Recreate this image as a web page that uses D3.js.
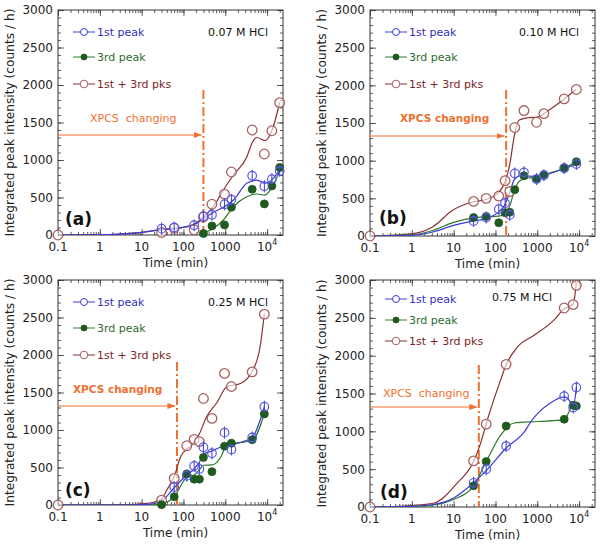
<!DOCTYPE html>
<html><head><meta charset="utf-8">
<script src="https://cdn.jsdelivr.net/npm/d3@7"></script>
<style>body{margin:0;background:#fff} svg{display:block} text{font-family:"DejaVu Sans",sans-serif}</style>
</head><body><svg id="c" width="600" height="547"></svg>
<script>
// ---------- tick labels ----------
const xTicks = [0.1, 1, 10, 100, 1000, 10000];
const xTickLabels = ["0.1", "1", "10", "100", "1000", "10^4"];
const yTicks = [0, 500, 1000, 1500, 2000, 2500, 3000];
const legendLabels = ["1st peak", "3rd peak", "1st + 3rd pks"];

// ---------- panel (a) 0.07 M HCl ----------
const t1A = [30, 60, 180, 300, 480, 960, 1400, 4400, 8600, 13000, 20000];
const p1A = [85, 100, 130, 250, 270, 410, 470, 790, 650, 745, 855];
const t3A = [300, 480, 960, 1400, 4400, 8600, 13000, 20000];
const p3A = [20, 120, 135, 370, 610, 415, 655, 900];
const tsA = [0.1, 30, 60, 180, 300, 480, 960, 1400, 4400, 8600, 13000, 20000];
const psA = [0, 35, 90, 70, 240, 410, 545, 840, 1400, 1080, 1390, 1765];
const fit1A = [[0.1,0],[1,3],[3,12],[10,35],[30,75],[100,105],[200,150],[300,220],[480,290],[1100,400],[1570,467],[3270,690],[5670,733],[8900,690],[12900,735],[20000,865]];
const fit3A = [[300,20],[520,89],[900,200],[1570,378],[3270,511],[5670,547],[8900,533],[14000,667],[20000,850]];
const fitSA = [[0.1,0],[1,3],[3,12],[10,35],[30,70],[100,100],[200,160],[300,240],[520,378],[900,600],[1570,800],[3270,1040],[4400,1230],[5670,1300],[8900,1260],[12900,1385],[20000,1770]];

// ---------- panel (b) 0.10 M HCl ----------
const t1B = [30, 60, 120, 170, 220, 290, 480, 960, 1440, 4400, 8600];
const p1B = [200, 245, 355, 435, 280, 830, 845, 755, 805, 900, 955];
const t3B = [30, 60, 120, 170, 220, 290, 480, 960, 1440, 4400, 8600];
const p3B = [245, 260, 175, 310, 315, 615, 800, 760, 815, 905, 985];
const tsB = [0.1, 30, 60, 120, 170, 220, 290, 480, 960, 1440, 4400, 8600];
const psB = [0, 460, 500, 530, 735, 590, 1440, 1665, 1510, 1625, 1820, 1945];
const fit1B = [[0.1,0],[1,10],[3,50],[10,140],[30,200],[60,230],[120,320],[170,420],[220,580],[290,760],[400,800],[1000,790],[1400,805],[4400,895],[8600,955]];
const fit3B = [[0.1,0],[1,15],[3,70],[10,180],[30,240],[60,255],[120,265],[170,290],[220,400],[290,620],[400,740],[600,770],[1000,780],[1400,810],[4400,900],[8600,985]];
const fitSB = [[0.1,0],[1,30],[3.2,124],[9.6,345],[30,455],[60,485],[110,560],[170,720],[220,950],[280,1320],[370,1540],[600,1570],[1000,1580],[2000,1680],[4400,1820],[8600,1945]];

// ---------- panel (c) 0.25 M HCl ----------
const t1C = [60, 120, 180, 240, 300, 480, 960, 1400, 4400, 8600];
const p1C = [240, 390, 520, 480, 770, 690, 965, 740, 900, 1310];
const t3C = [30, 60, 120, 180, 240, 300, 480, 960, 1400, 4400, 8600];
const p3C = [5, 110, 415, 345, 345, 635, 445, 785, 825, 870, 1215];
const tsC = [0.1, 30, 60, 120, 180, 240, 300, 480, 960, 1400, 4400, 8600];
const psC = [0, 65, 355, 790, 875, 845, 1420, 1155, 1755, 1580, 1775, 2545];
const fit1C = [[0.1,0],[5,0],[10,5],[20,20],[30,50],[60,230],[120,400],[180,480],[240,570],[300,680],[480,720],[960,790],[1400,800],[2500,840],[4400,900],[8600,1310]];
const fit3C = [[0.1,0],[10,0],[20,5],[30,15],[60,110],[120,370],[180,400],[240,470],[300,530],[480,535],[800,650],[1000,770],[1400,810],[4400,860],[8600,1220]];
const fitSC = [[0.1,0],[1,0],[5,5],[10,15],[20,40],[30,80],[40,200],[60,380],[85,640],[170,820],[240,950],[360,1180],[620,1360],[1100,1580],[2300,1620],[4400,1780],[6800,2110],[8600,2550]];

// ---------- panel (d) 0.75 M HCl ----------
const t1D = [30, 60, 180, 4400, 7200, 8600];
const p1D = [320, 500, 805, 1465, 1315, 1580];
const t3D = [30, 60, 180, 4400, 7200, 8600];
const p3D = [280, 600, 1070, 1160, 1345, 1335];
const tsD = [0.1, 30, 60, 180, 4400, 7200, 8600];
const psD = [0, 610, 1095, 1885, 2630, 2675, 2930];
const fit1D = [[0.1,0],[1,10],[3,30],[10,120],[30,320],[60,480],[180,780],[500,1000],[700,1125],[1000,1230],[2000,1370],[4400,1455],[6000,1400],[7200,1320],[8600,1580]];
const fit3D = [[0.1,0],[1,8],[3,25],[10,100],[30,280],[60,600],[133,950],[280,1110],[1000,1130],[4400,1155],[7200,1340],[8600,1340]];
const fitSD = [[0.1,0],[1,20],[3.3,50],[12,313],[30,600],[44,840],[60,1100],[133,1680],[180,1880],[336,2116],[840,2270],[2500,2470],[4400,2620],[7200,2680],[8600,2960]];

const hclLabels = ["0.07 M HCl", "0.10 M HCl", "0.25 M HCl", "0.75 M HCl"];
const panelLabels = ["(a)", "(b)", "(c)", "(d)"];
const xpcsTimes = [300, 180, 70, 40];
const xpcsText = ["XPCS  changing", "XPCS changing", "XPCS changing", "XPCS  changing"];

// ---------- styling / layout ----------
const C1 = "#3b3bd6", C3 = "#2f7a2f", C3f = "#1f5a1f", CS = "#8a3030", CSm = "#a86060", OR = "#f07030";
const layout = [
  {L:58, R:283, T:10, B:235, leg:[22,47,74], hcl:[268,26], lab:[65,225], xp:[90,122,135], bold:false, xpTop:90},
  {L:370, R:595, T:10, B:236, leg:[22,47,74], hcl:[579,26], lab:[379,224], xp:[400,122,136], bold:true, xpTop:90},
  {L:58, R:283, T:280, B:505, leg:[22,48,75], hcl:[268,296], lab:[65,496], xp:[73,393,406], bold:true, xpTop:362},
  {L:370, R:595, T:280, B:507, leg:[19,40,61], hcl:[552,291], lab:[380,498], xp:[383,397,407], bold:false, xpTop:365}
];
const data = [
  {t1:t1A,p1:p1A,t3:t3A,p3:p3A,ts:tsA,ps:psA,f1:fit1A,f3:fit3A,fs:fitSA},
  {t1:t1B,p1:p1B,t3:t3B,p3:p3B,ts:tsB,ps:psB,f1:fit1B,f3:fit3B,fs:fitSB},
  {t1:t1C,p1:p1C,t3:t3C,p3:p3C,ts:tsC,ps:psC,f1:fit1C,f3:fit3C,fs:fitSC},
  {t1:t1D,p1:p1D,t3:t3D,p3:p3D,ts:tsD,ps:psD,f1:fit1D,f3:fit3D,fs:fitSD}
];

const svg = d3.select("#c");
const defs = svg.append("defs");
defs.append("marker").attr("id","arr").attr("viewBox","0 0 10 10").attr("refX",9).attr("refY",5)
  .attr("markerWidth",7).attr("markerHeight",7).attr("orient","auto")
  .append("path").attr("d","M0,1.5L10,5L0,8.5Z").attr("fill",OR);

layout.forEach((P, i) => {
  const D = data[i];
  const x = d3.scaleLog().domain([0.1, 24000]).range([P.L, P.R]);
  const y = d3.scaleLinear().domain([0, 3000]).range([P.B, P.T]);
  const g = svg.append("g");
  const clipId = "clip" + i;
  defs.append("clipPath").attr("id", clipId).append("rect")
    .attr("x", P.L).attr("y", P.T).attr("width", P.R - P.L).attr("height", P.B - P.T);

  // minor ticks
  const minorX = [];
  for (let e = -1; e <= 4; e++) for (let m = 1; m <= 9; m++) { const v = m * Math.pow(10, e); if (v <= 24000) minorX.push(v); }
  const axB = d3.axisBottom(x).tickValues(minorX).tickSize(-3).tickFormat("");
  const axT = d3.axisTop(x).tickValues(minorX).tickSize(-3).tickFormat("");
  const axBM = d3.axisBottom(x).tickValues(xTicks).tickSize(-6).tickPadding(8).tickFormat("");
  const axTM = d3.axisTop(x).tickValues(xTicks).tickSize(-6).tickFormat("");
  const minorY = d3.range(0, 3001, 100);
  const axL = d3.axisLeft(y).tickValues(minorY).tickSize(-3).tickFormat("");
  const axR = d3.axisRight(y).tickValues(minorY).tickSize(-3).tickFormat("");
  const axLM = d3.axisLeft(y).tickValues(yTicks).tickSize(-6).tickPadding(5).tickFormat(d3.format("d"));
  const axRM = d3.axisRight(y).tickValues(yTicks).tickSize(-6).tickFormat("");
  const put = (ax, tr) => {
    const a = g.append("g").attr("transform", tr).call(ax);
    a.select(".domain").remove();
    a.selectAll("line").attr("stroke", "#333").attr("stroke-width", 0.8);
    return a;
  };
  put(axB, `translate(0,${P.B})`); put(axT, `translate(0,${P.T})`);
  put(axBM, `translate(0,${P.B})`); put(axTM, `translate(0,${P.T})`);
  put(axL, `translate(${P.L},0)`); put(axR, `translate(${P.R},0)`);
  put(axRM, `translate(${P.R},0)`);
  const yl = put(axLM, `translate(${P.L},0)`);
  yl.selectAll("text").attr("font-size", 12).attr("fill", "#222").attr("font-family", '"DejaVu Sans",sans-serif');

  // x tick labels (with superscript for 10^4)
  xTicks.forEach((v, k) => {
    const lab = xTickLabels[k];
    const tx = g.append("text").attr("x", x(v)).attr("y", P.B + 16).attr("text-anchor", "middle")
      .attr("font-size", 12).attr("fill", "#222");
    if (lab.includes("^")) {
      const [b, e] = lab.split("^");
      tx.text(b);
      tx.append("tspan").attr("dy", -6).attr("font-size", 8).text(e);
    } else tx.text(lab);
  });

  g.append("rect").attr("x", P.L).attr("y", P.T).attr("width", P.R - P.L).attr("height", P.B - P.T)
    .attr("fill", "none").attr("stroke", "#333").attr("stroke-width", 1);

  // axis titles
  g.append("text").attr("x", (P.L + P.R) / 2 + 5).attr("y", P.B + 32).attr("text-anchor", "middle")
    .attr("font-size", 12).attr("fill", "#222").text("Time (min)");
  const ylx = P.L - 44;
  g.append("text").attr("transform", `translate(${ylx},${(P.T + P.B) / 2}) rotate(-90)`)
    .attr("text-anchor", "middle").attr("font-size", 12.2).attr("fill", "#222")
    .text("Integrated peak intensity (counts / h)");

  // XPCS annotation
  g.append("line").attr("x1", x(xpcsTimes[i])).attr("x2", x(xpcsTimes[i])).attr("y1", P.xpTop).attr("y2", P.B)
    .attr("stroke", OR).attr("stroke-width", 2).attr("stroke-dasharray", "9,3,2,3");
  g.append("line").attr("x1", P.L).attr("x2", x(xpcsTimes[i]) - 2).attr("y1", P.xp[2]).attr("y2", P.xp[2])
    .attr("stroke", OR).attr("stroke-width", 1.2).attr("marker-end", "url(#arr)");
  g.append("text").attr("x", P.xp[0]).attr("y", P.xp[1]).attr("font-size", P.bold ? 10.5 : 11)
    .attr("font-weight", P.bold ? "bold" : "normal").attr("fill", OR).attr("xml:space", "preserve")
    .style("white-space", "pre").text(xpcsText[i]);

  // fit curves
  const line = d3.line().x(d => x(d[0])).y(d => y(d[1])).curve(d3.curveMonotoneX);
  const cg = g.append("g").attr("clip-path", `url(#${clipId})`);
  cg.append("path").attr("d", line(D.fs)).attr("fill", "none").attr("stroke", CS).attr("stroke-width", 1.2);
  cg.append("path").attr("d", line(D.f3)).attr("fill", "none").attr("stroke", C3).attr("stroke-width", 1.2);
  cg.append("path").attr("d", line(D.f1)).attr("fill", "none").attr("stroke", C1).attr("stroke-width", 1.2);

  // markers
  D.ts.forEach((t, k) => {
    g.append("circle").attr("cx", x(t)).attr("cy", y(D.ps[k])).attr("r", 4.8)
      .attr("fill", "#fff").attr("fill-opacity", 0.6).attr("stroke", CSm).attr("stroke-width", 1.3);
  });
  D.t3.forEach((t, k) => {
    g.append("circle").attr("cx", x(t)).attr("cy", y(D.p3[k])).attr("r", 4)
      .attr("fill", C3f).attr("stroke", C3f).attr("stroke-width", 0.8);
  });
  D.t1.forEach((t, k) => {
    const cx = x(t), cy = y(D.p1[k]);
    g.append("line").attr("x1", cx).attr("x2", cx).attr("y1", cy - 6).attr("y2", cy + 6)
      .attr("stroke", C1).attr("stroke-width", 1);
    g.append("circle").attr("cx", cx).attr("cy", cy).attr("r", 4.3)
      .attr("fill", "none").attr("stroke", "#5a5ae0").attr("stroke-width", 1.2);
  });

  // legend
  const lx0 = P.L + 15, lx1 = P.L + 37, lmx = P.L + 26, ltx = P.L + 39;
  const legCols = [C1, C3, CS];
  P.leg.forEach((dy, k) => {
    const ly = P.T + dy;
    g.append("line").attr("x1", lx0).attr("x2", lx1).attr("y1", ly).attr("y2", ly)
      .attr("stroke", legCols[k]).attr("stroke-width", 1);
    if (k === 0) {
      g.append("line").attr("x1", lmx).attr("x2", lmx).attr("y1", ly - 4).attr("y2", ly + 4).attr("stroke", C1);
      g.append("circle").attr("cx", lmx).attr("cy", ly).attr("r", 3.5).attr("fill", "#fff").attr("stroke", C1);
    } else if (k === 1) {
      g.append("circle").attr("cx", lmx).attr("cy", ly).attr("r", 3.3).attr("fill", C3f);
    } else {
      g.append("circle").attr("cx", lmx).attr("cy", ly).attr("r", 3.8).attr("fill", "#fff").attr("stroke", CSm);
    }
    g.append("text").attr("x", ltx).attr("y", ly + 4).attr("font-size", 11)
      .attr("fill", k === 0 ? "#3030c0" : k === 1 ? "#2e6b2e" : "#7a2525").text(legendLabels[k]);
  });
  g.append("text").attr("x", P.hcl[0]).attr("y", P.hcl[1] + 10).attr("text-anchor", "end")
    .attr("font-size", 11).attr("fill", "#111").text(hclLabels[i]);
  g.append("text").attr("x", P.lab[0]).attr("y", P.lab[1]).attr("font-size", 17).attr("font-weight", "bold")
    .attr("fill", "#111").text(panelLabels[i]);
});
</script></body></html>
